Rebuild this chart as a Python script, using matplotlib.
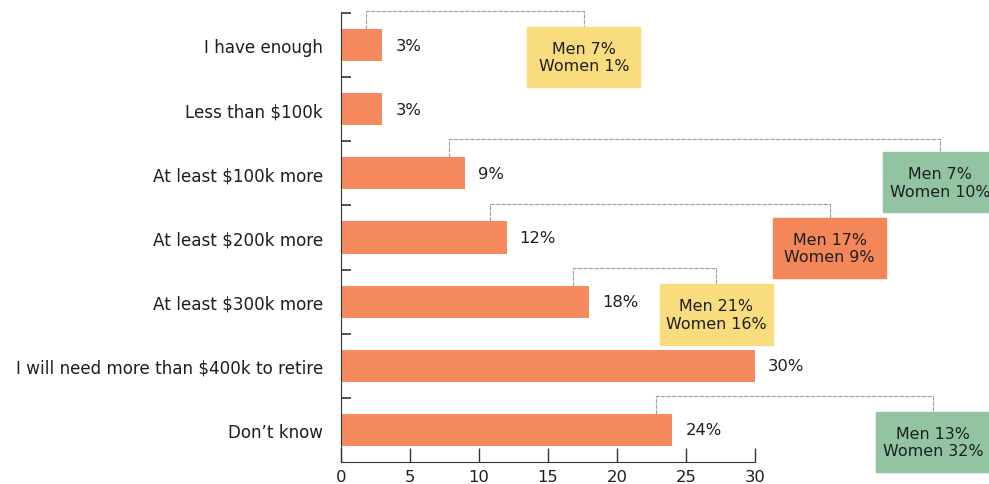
import numpy as np
import matplotlib.pyplot as plt
from matplotlib.patches import Rectangle

categories = ["I have enough", "Less than $100k", "At least $100k more",
              "At least $200k more", "At least $300k more",
              "I will need more than $400k to retire", "Don\u2019t know"]
values = [3, 3, 9, 12, 18, 30, 24]

# gender breakdown shown in boxes (row index, men, women)
split_rows = [0, 2, 3, 4, 6]
men = [7, 7, 17, 21, 13]
women = [1, 10, 9, 16, 32]

# layout of the callouts
box_x = [17.6, 43.4, 35.4, 27.2, 42.9]
box_dy = [0.19, 0.14, 0.16, 0.2, 0.19]
box_colors = ["#f8dc7e", "#93c4a2", "#f4875a", "#f8dc7e", "#93c4a2"]
bar_color = "#f68a5e"
text_color = "#1e1e1e"

plt.rcParams['font.family'] = ['DejaVu Sans']

fig = plt.figure(figsize=(9.89, 4.85), dpi=100)
ax = fig.add_axes([341 / 989, 22 / 485, 414 / 989, 449 / 485])

y = np.arange(len(categories))
ax.barh(y, values, height=0.5, color=bar_color)
for yi, v in zip(y, values):
    ax.text(v + 0.95, yi, f"{v}%", va="center", ha="left", fontsize=11.8, color=text_color)

ax.set_xlim(0, 30)
ax.set_ylim(6.5, -0.5)

for k, row in enumerate(split_rows):
    x0 = values[row] - 1.2
    x1 = box_x[k]
    cy = row + box_dy[k]
    h = 0.94
    w = 8.2
    top_line = row - 0.53
    ax.plot([x0, x0, x1, x1], [row - 0.25, top_line, top_line, cy - h / 2],
            color="#a0a0a0", lw=0.8, ls=(0, (4, 1)), clip_on=False, zorder=1)
    ax.add_patch(Rectangle((x1 - w / 2, cy - h / 2), w, h, color=box_colors[k],
                           clip_on=False, zorder=2))
    ax.text(x1, cy, f"Men {men[k]}%\nWomen {women[k]}%", ha="center", va="center",
            fontsize=11.4, color=text_color, linespacing=1.2, zorder=3, clip_on=False)

for side in ["top", "right"]:
    ax.spines[side].set_visible(False)
ax.spines["left"].set_color("#333333")
ax.spines["bottom"].set_color("#333333")

ax.set_xticks([0, 5, 10, 15, 20, 25, 30])
ax.tick_params(axis="x", direction="in", length=10, width=1, color="#333333",
               labelsize=11.8, labelcolor=text_color, pad=5)
ax.set_yticks(y)
ax.set_yticklabels(categories)
ax.tick_params(axis="y", which="major", length=0, pad=13, labelsize=12.1, labelcolor=text_color)
ax.set_yticks(np.arange(-0.5, 6.5, 1), minor=True)
ax.tick_params(axis="y", which="minor", direction="in", length=7, width=1.2, color="#333333")

fig.savefig("out.png", dpi=100)
